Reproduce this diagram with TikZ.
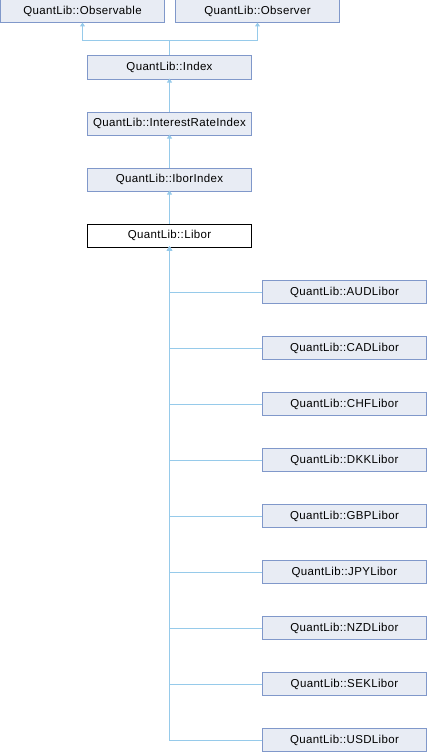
\documentclass[tikz,border=0pt]{standalone}
\usepackage{fontspec}
\setmainfont{Liberation Sans}[LetterSpace=3]
\usetikzlibrary{arrows.meta}
\definecolor{boxfill}{RGB}{232,236,244}
\definecolor{boxline}{RGB}{128,152,202}
\definecolor{linkblue}{RGB}{150,202,234}
\tikzset{
  classbox/.style={draw=boxline,fill=boxfill,line width=1pt,minimum width=164pt,minimum height=23pt,inner sep=0pt,font=\fontsize{11.5}{12}\selectfont},
  thisbox/.style={classbox,draw=black,fill=white},
  link/.style={draw=linkblue,line width=1pt,-{Triangle[width=5pt,length=4pt]}}
}
\begin{document}
\begin{tikzpicture}[x=1pt,y=-1pt]
\useasboundingbox (0,0) rectangle (427,752);

% Base classes
\node[classbox] (observable) at (82.5,11.5) {QuantLib::Observable};
\node[classbox] (observer) at (257.5,11.5) {QuantLib::Observer};
\node[classbox] (index) at (169.5,67.5) {QuantLib::Index};
\node[classbox] (interestrate) at (169.5,123.5) {QuantLib::InterestRateIndex};
\node[classbox] (ibor) at (169.5,179.5) {QuantLib::IborIndex};
\node[thisbox] (libor) at (169.5,235.5) {QuantLib::Libor};

% Inheritance links
\coordinate (join) at (169.5,41);
\draw[link,-] (index.north) -- (join);
\draw[link] (join) -| ([yshift=1pt]observable.south);
\draw[link] (join) -| ([yshift=1pt]observer.south);
\draw[link] (interestrate.north) -- ([yshift=1pt]index.south);
\draw[link] (ibor.north) -- ([yshift=1pt]interestrate.south);
\draw[link] (libor.north) -- ([yshift=1pt]ibor.south);

% Derived classes
\foreach \cur [count=\i from 0] in {AUD,CAD,CHF,DKK,GBP,JPY,NZD,SEK,USD} {
    \node[classbox] (\cur) at (344.5,292+56*\i) {QuantLib::\cur Libor};
    \draw[link] (\cur.west) -| ([yshift=1pt]libor.south);
}

\end{tikzpicture}
\end{document}
